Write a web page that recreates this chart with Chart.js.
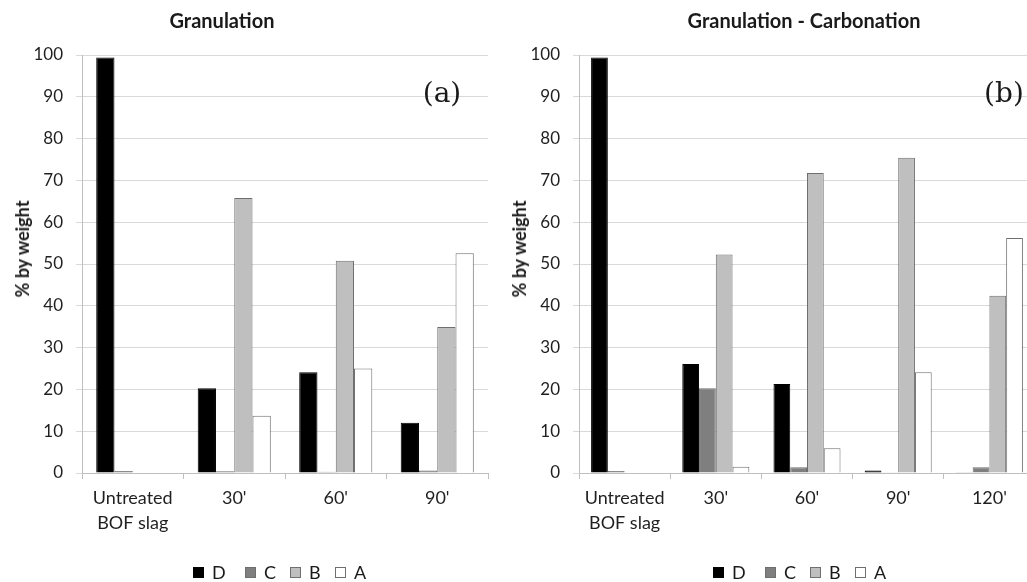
<!DOCTYPE html>
<html>
<head>
<meta charset="utf-8">
<script src="https://cdn.jsdelivr.net/npm/chart.js@4.4.1/dist/chart.umd.min.js"></script>
<style>
  html, body { margin: 0; padding: 0; background: #fff; overflow: hidden; }
  body { width: 1027px; height: 582px; position: relative; font-family: Lato, "Open Sans", sans-serif; color: #1a1a1a; }
  .cv { position: absolute; top: 0; }
  .title { position: absolute; font-weight: bold; font-size: 20px; white-space: nowrap; transform: translate(-50%, -50%); }
  .ylab { position: absolute; font-weight: bold; font-size: 18px; white-space: nowrap; transform: translate(-50%, -50%) rotate(-90deg); }
  .tag { position: absolute; font-family: "DejaVu Serif", "Liberation Serif", serif; font-size: 28px; white-space: nowrap; transform: translate(-50%, -50%); }
  .lg { position: absolute; top: 567px; width: 11px; height: 11px; box-sizing: border-box; border: 1px solid #6f6f6f; }
  .lt { position: absolute; top: 562px; font-size: 18px; line-height: 21px; }
</style>
</head>
<body>
<div class="cv" style="left:0px;width:500px;height:582px;"><canvas id="c1"></canvas></div>
<div class="cv" style="left:497px;width:540px;height:582px;"><canvas id="c2"></canvas></div>

<div class="title" style="left:222px;top:20px;">Granulation</div>
<div class="title" style="left:804px;top:20px;">Granulation - Carbonation</div>
<div class="ylab" style="left:22px;top:249px;">% by weight</div>
<div class="ylab" style="left:519px;top:249px;">% by weight</div>
<div class="tag" style="left:442px;top:92px;">(a)</div>
<div class="tag" style="left:1004px;top:92px;">(b)</div>
<div id="legends"></div>

<script>
// ---- data ----
const seriesNames = ['D', 'C', 'B', 'A'];
const seriesColors = ['#000000', '#7f7f7f', '#bfbfbf', '#ffffff'];

const catsA = [['Untreated', 'BOF slag'], "30'", "60'", "90'"];
const dA = [99.4, 20.3, 24.1, 12.0];
const cA = [0.5, 0.4, 0.3, 0.6];
const bA = [0, 65.8, 50.8, 34.9];
const aA = [0, 13.7, 25.0, 52.6];

const catsB = [['Untreated', 'BOF slag'], "30'", "60'", "90'", "120'"];
const dB = [99.4, 26.1, 21.3, 0.6, 0.2];
const cB = [0.5, 20.3, 1.4, 0.2, 1.4];
const bB = [0, 52.3, 71.8, 75.4, 42.4];
const aB = [0, 1.5, 5.9, 24.1, 56.2];

const yTicks = [0, 10, 20, 30, 40, 50, 60, 70, 80, 90, 100];

function makeChart(id, cats, series, catPct, padRight) {
  const datasets = series.map((vals, i) => ({
    label: seriesNames[i],
    data: vals,
    backgroundColor: seriesColors[i],
    borderColor: i === 0 ? '#000000' : '#6f6f6f',
    borderWidth: 1,
    barPercentage: 1,
    categoryPercentage: catPct
  }));
  return new Chart(document.getElementById(id), {
    type: 'bar',
    data: { labels: cats, datasets },
    options: {
      responsive: true,
      maintainAspectRatio: false,
      animation: false,
      layout: { padding: { top: 55, left: 0, right: padRight, bottom: 0 } },
      plugins: { legend: { display: false }, tooltip: { enabled: false }, title: { display: false } },
      scales: {
        x: {
          afterFit: s => { s.height = 109; },
          grid: { offset: true, drawOnChartArea: false, drawTicks: true, tickLength: 6, color: '#bfbfbf' },
          border: { color: '#bfbfbf' },
          ticks: { color: '#1f1f1f', font: { family: 'Lato', size: 18, lineHeight: 1.39 }, padding: 7, maxRotation: 0, autoSkip: false }
        },
        y: {
          min: 0, max: 100,
          afterFit: s => { s.width = 82; },
          afterBuildTicks: s => { s.ticks = yTicks.map(v => ({ value: v })); },
          grid: { color: '#d9d9d9', tickLength: 6, drawTicks: true },
          border: { color: '#bfbfbf' },
          ticks: { color: '#1f1f1f', font: { family: 'Lato', size: 17 }, padding: 13 }
        }
      }
    }
  });
}

makeChart('c1', catsA, [dA, cA, bA, aA], 0.72, 12);
makeChart('c2', catsB, [dB, cB, bB, aB], 0.735, 2);

// legends
const legendStarts = [193, 713];
const sqOffsets = [0, 52, 97, 142];
const legendHost = document.getElementById('legends');
legendStarts.forEach(x0 => {
  seriesNames.forEach((n, i) => {
    const sq = document.createElement('div');
    sq.className = 'lg';
    sq.style.left = (x0 + sqOffsets[i]) + 'px';
    sq.style.background = seriesColors[i];
    if (i === 0) sq.style.borderColor = '#000';
    legendHost.appendChild(sq);
    const t = document.createElement('div');
    t.className = 'lt';
    t.style.left = (x0 + sqOffsets[i] + 19) + 'px';
    t.textContent = n;
    legendHost.appendChild(t);
  });
});
</script>
</body>
</html>
